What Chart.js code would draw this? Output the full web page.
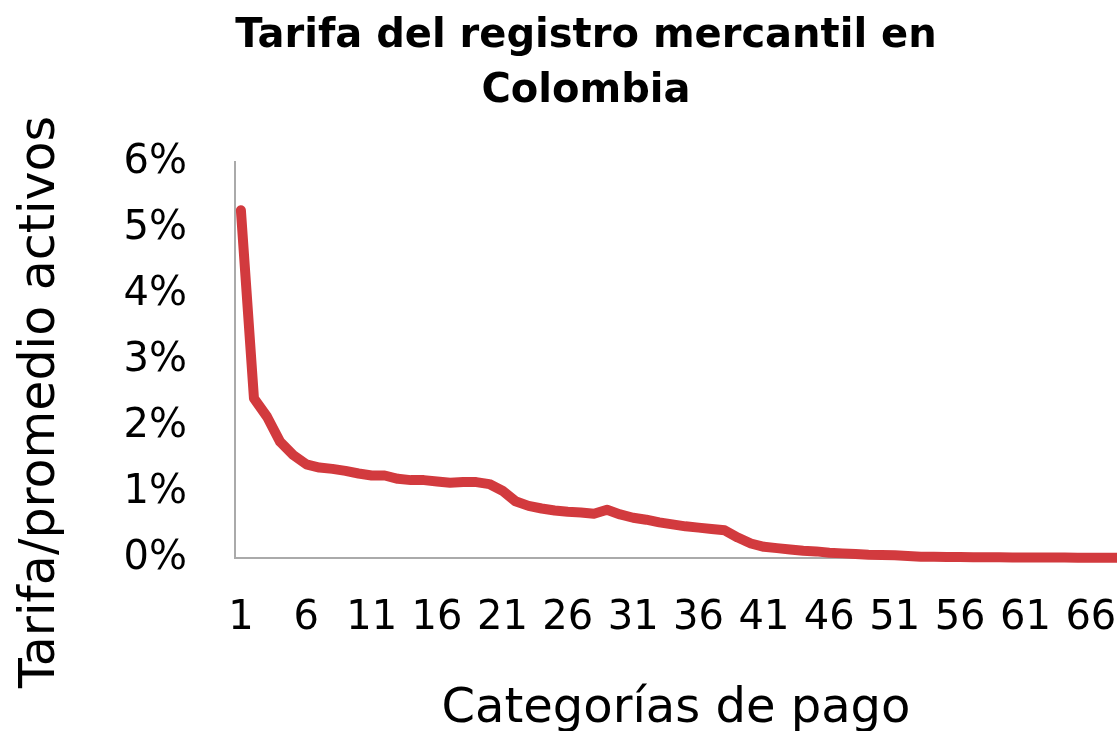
<!DOCTYPE html>
<html>
<head>
<meta charset="utf-8">
<script src="https://cdn.jsdelivr.net/npm/chart.js@4"></script>
<style>
  body { margin: 0; background: #fff; }
</style>
</head>
<body>
<canvas id="tarifaChart" width="1117" height="731"></canvas>
<script>
// Categorías de pago 1..68
const categorias = [];
for (let i = 1; i <= 68; i++) categorias.push(i);

// Tarifa / promedio activos (%)
const tarifa = [
  5.27, 2.42, 2.14, 1.76, 1.56, 1.42, 1.37, 1.35, 1.32, 1.28,
  1.25, 1.25, 1.20, 1.18, 1.18, 1.16, 1.14, 1.15, 1.15, 1.12,
  1.02, 0.86, 0.79, 0.75, 0.72, 0.70, 0.69, 0.67, 0.73, 0.66,
  0.61, 0.58, 0.54, 0.51, 0.48, 0.46, 0.44, 0.42, 0.31, 0.22,
  0.17, 0.15, 0.13, 0.11, 0.10, 0.08, 0.07, 0.06, 0.05, 0.045,
  0.04, 0.03, 0.02, 0.02, 0.016, 0.014, 0.012, 0.011, 0.01, 0.009,
  0.008, 0.007, 0.006, 0.006, 0.005, 0.005, 0.005, 0.005
];

// Tick labels on the x axis (every 5th category)
const ticksX = [1, 6, 11, 16, 21, 26, 31, 36, 41, 46, 51, 56, 61, 66];

const tituloLineas = ["Tarifa del registro mercantil en", "Colombia"];
const tituloEjeY = "Tarifa/promedio activos";
const tituloEjeX = "Categorías de pago";

const fontFamily = "'DejaVu Sans', sans-serif";

// Draws the chart title and the y axis title where the original has them
const extraTitles = {
  id: "extraTitles",
  afterDraw(chart) {
    const ctx = chart.ctx;
    ctx.save();
    ctx.fillStyle = "#000";
    ctx.textAlign = "center";
    ctx.textBaseline = "middle";
    ctx.font = "bold 40px " + fontFamily;
    ctx.fillText(tituloLineas[0], 586, 37);
    ctx.fillText(tituloLineas[1], 586, 92);
    ctx.translate(41, 402);
    ctx.rotate(-Math.PI / 2);
    ctx.font = "49px " + fontFamily;
    ctx.fillText(tituloEjeY, 0, 0);
    ctx.restore();
  },
};

new Chart(document.getElementById("tarifaChart").getContext("2d"), {
  type: "line",
  data: {
    datasets: [
      {
        data: categorias.map((c, i) => ({ x: c, y: tarifa[i] })),
        borderColor: "#D23A3E",
        borderWidth: 10,
        borderCapStyle: "round",
        borderJoinStyle: "round",
        pointRadius: 0,
        pointHoverRadius: 0,
        tension: 0,
        fill: false,
        clip: 10,
      },
    ],
  },
  plugins: [extraTitles],
  options: {
    responsive: false,
    devicePixelRatio: 1,
    animation: false,
    layout: {
      autoPadding: false,
      padding: { left: 0, right: 0, top: 162, bottom: 0 },
    },
    plugins: {
      legend: { display: false },
      tooltip: { enabled: false },
      title: { display: false },
    },
    scales: {
      x: {
        type: "linear",
        min: 0.55,
        max: 68,
        grid: { display: false },
        border: { display: true, color: "#aaa", width: 2 },
        ticks: {
          maxRotation: 0,
          color: "#000",
          padding: 29,
          font: { family: fontFamily, size: 40 },
          callback: function (value) {
            return String(value);
          },
        },
        afterBuildTicks: function (scale) {
          scale.ticks = ticksX.map((v) => ({ value: v }));
        },
        title: {
          display: true,
          text: tituloEjeX,
          color: "#000",
          font: { family: fontFamily, size: 48, lineHeight: 0.9 },
          padding: { top: 40, bottom: 0 },
        },
        afterFit: function (scale) {
          scale.height = 173;
          scale.paddingLeft = 0;
          scale.paddingRight = 0;
        },
      },
      y: {
        min: 0,
        max: 6,
        grid: { display: false },
        border: { display: true, color: "#aaa", width: 2 },
        ticks: {
          stepSize: 1,
          color: "#000",
          padding: 40,
          labelOffset: 1,
          font: { family: fontFamily, size: 40 },
          callback: function (value) {
            return value + "%";
          },
        },
        afterFit: function (scale) {
          scale.width = 235;
        },
      },
    },
  },
});
</script>
</body>
</html>
